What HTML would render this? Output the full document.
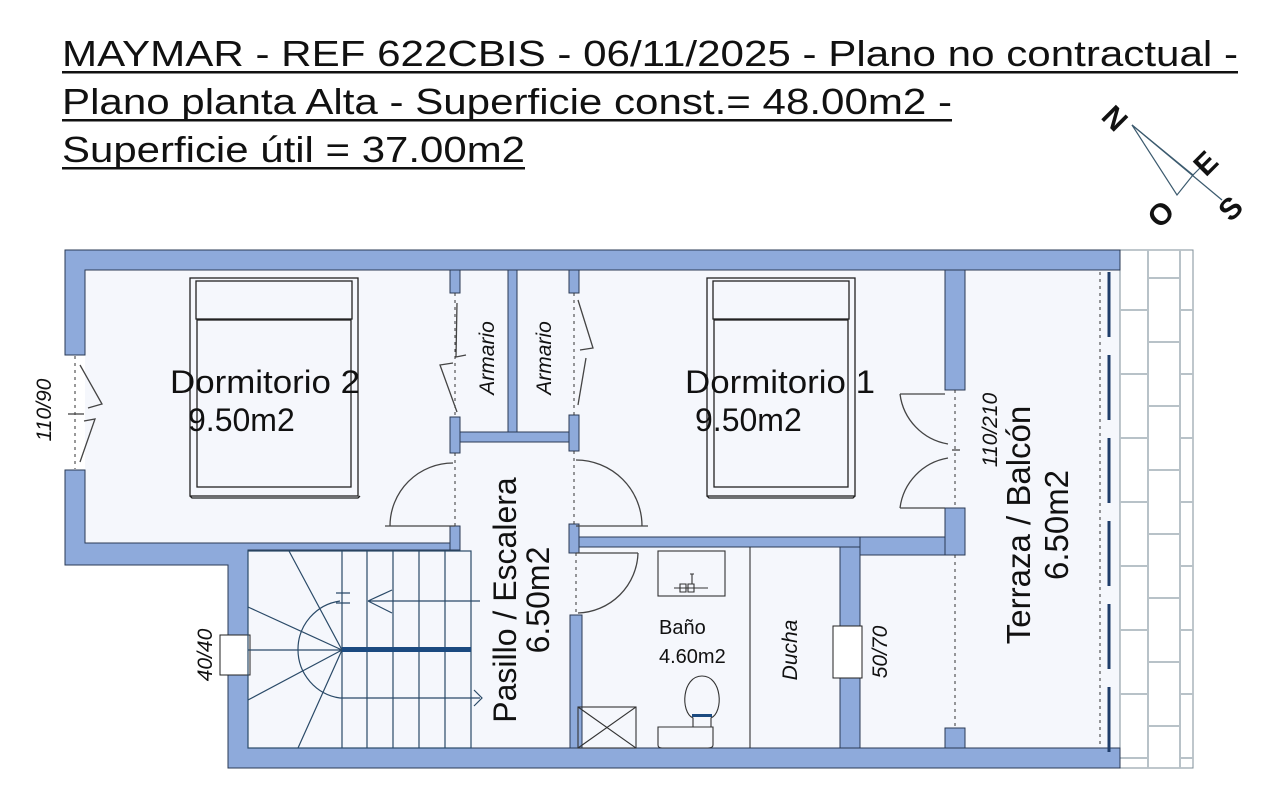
<!DOCTYPE html>
<html><head><meta charset="utf-8"><style>
html,body{margin:0;padding:0;background:#fff;}
svg{display:block;font-family:"Liberation Sans",sans-serif;}
</style></head><body>
<svg width="1280" height="796" viewBox="0 0 1280 796" xmlns="http://www.w3.org/2000/svg">
<rect width="1280" height="796" fill="#fff"/>
<g font-size="36" fill="#111">
<text x="62" y="66" textLength="1176" lengthAdjust="spacingAndGlyphs">MAYMAR - REF 622CBIS - 06/11/2025 - Plano no contractual -</text>
<text x="62" y="114" textLength="890" lengthAdjust="spacingAndGlyphs">Plano planta Alta - Superficie const.= 48.00m2 -</text>
<text x="62" y="162" textLength="463" lengthAdjust="spacingAndGlyphs">Superficie útil = 37.00m2</text>
</g>
<g fill="#111"><rect x="62" y="71" width="1176" height="2.5"/><rect x="62" y="119" width="890" height="2.5"/><rect x="62" y="167" width="463" height="2.5"/></g>
<g stroke="#3b5a6e" stroke-width="1.2" fill="none">
<path d="M1132 125 L1177 195 L1193 175 Z"/><path d="M1193 175 L1205 163"/><path d="M1132 125 L1222 200"/>
</g>
<g font-size="30" fill="#111" font-weight="bold">
<text x="1106" y="127" transform="rotate(45 1114 115)">N</text>
<text x="1194" y="171" transform="rotate(-45 1208 160)">E</text>
<text x="1148" y="223" transform="rotate(-45 1162 212)">O</text>
<text x="1220" y="219" transform="rotate(-45 1230 208)">S</text>
</g>
<path d="M85 270 H1120 V748 H248 V565 H85 Z" fill="#f5f7fc"/>
<rect x="1120" y="250" width="73" height="518" fill="#fff" stroke="#7f8f98" stroke-width="1"/>
<g stroke="#b8c2c8" stroke-width="2">
<line x1="1148" y1="250" x2="1148" y2="768"/><line x1="1180" y1="250" x2="1180" y2="768"/>
<line x1="1120" y1="310" x2="1148" y2="310"/><line x1="1120" y1="374" x2="1148" y2="374"/><line x1="1120" y1="438" x2="1148" y2="438"/><line x1="1120" y1="502" x2="1148" y2="502"/><line x1="1120" y1="566" x2="1148" y2="566"/><line x1="1120" y1="630" x2="1148" y2="630"/><line x1="1120" y1="694" x2="1148" y2="694"/><line x1="1120" y1="758" x2="1148" y2="758"/>
<line x1="1180" y1="310" x2="1193" y2="310"/><line x1="1180" y1="374" x2="1193" y2="374"/><line x1="1180" y1="438" x2="1193" y2="438"/><line x1="1180" y1="502" x2="1193" y2="502"/><line x1="1180" y1="566" x2="1193" y2="566"/><line x1="1180" y1="630" x2="1193" y2="630"/><line x1="1180" y1="694" x2="1193" y2="694"/><line x1="1180" y1="758" x2="1193" y2="758"/>
<line x1="1148" y1="278" x2="1180" y2="278"/><line x1="1148" y1="342" x2="1180" y2="342"/><line x1="1148" y1="406" x2="1180" y2="406"/><line x1="1148" y1="470" x2="1180" y2="470"/><line x1="1148" y1="534" x2="1180" y2="534"/><line x1="1148" y1="598" x2="1180" y2="598"/><line x1="1148" y1="662" x2="1180" y2="662"/><line x1="1148" y1="726" x2="1180" y2="726"/>
</g>
<g fill="#8eaadb" stroke="#2a3a55" stroke-width="1">
<path d="M65 250 H1120 V270 H85 V355 H65 Z"/>
<path d="M65 470 H85 V543 H460 V550 H248 V748 H1120 V768 H228 V565 H65 Z"/>
<rect x="450" y="270" width="10" height="23"/><rect x="450" y="417" width="10" height="36"/><rect x="450" y="526" width="10" height="24"/>
<rect x="508" y="270" width="9" height="162"/>
<rect x="460" y="432" width="110" height="10"/>
<rect x="569" y="270" width="10" height="23"/><rect x="569" y="415" width="10" height="36"/><rect x="569" y="524" width="10" height="29"/>
<rect x="570" y="615" width="12" height="133"/>
<rect x="579" y="537" width="366" height="10"/>
<rect x="840" y="547" width="20" height="201"/>
<rect x="860" y="537" width="85" height="18"/>
<rect x="945" y="270" width="20" height="120"/><rect x="945" y="508" width="20" height="47"/><rect x="945" y="728" width="20" height="20"/>
</g>
<rect x="220" y="635" width="30" height="40" fill="#fff" stroke="#222" stroke-width="1"/>
<rect x="833" y="626" width="29" height="52" fill="#fff" stroke="#222" stroke-width="1"/>
<g stroke="#333" stroke-width="1" stroke-dasharray="3,4">
<line x1="75" y1="356" x2="75" y2="469"/><line x1="455" y1="293" x2="455" y2="417"/><line x1="455" y1="453" x2="455" y2="526"/>
<line x1="574" y1="293" x2="574" y2="415"/><line x1="574" y1="451" x2="574" y2="524"/><line x1="576" y1="553" x2="576" y2="615"/>
<line x1="955" y1="390" x2="955" y2="508"/><line x1="955" y1="555" x2="955" y2="728"/><line x1="1100" y1="272" x2="1100" y2="748"/>
</g>
<g stroke="#1f3d6a" stroke-width="3" stroke-dasharray="65,18"><line x1="1109" y1="272" x2="1109" y2="760"/></g>
<g stroke="#444" stroke-width="1.3" fill="none">
<path d="M385 526 H455 M390 526 A63 63 0 0 1 453 463"/>
<path d="M576 526 H648 M576 460 A66 66 0 0 1 642 526"/>
<path d="M576 553 H638 M638 553 A62 62 0 0 1 578 613"/>
<path d="M945 394 H900 M900 394 A58 58 0 0 0 948 444"/>
<path d="M945 508 H900 M900 508 A58 58 0 0 1 948 458"/>
<line x1="952" y1="450" x2="960" y2="450"/>
<path d="M80 365 L102 404 L88 408 M80 462 L95 419 L84 421"/><line x1="68" y1="414" x2="84" y2="414"/>
<path d="M457 303 L456 357 L466 355 M457 412 L440 365 L453 363"/>
<path d="M578 300 L593 348 L580 350 M578 405 L586 358"/>
</g>
<g stroke="#222" stroke-width="1.3" fill="none">
<rect x="190" y="278" width="168" height="218"/><rect x="196" y="281" width="156" height="38"/><rect x="197" y="320" width="154" height="167"/>
<path d="M190 496 L192 498 L358 498 L360 496"/>
<rect x="707" y="278" width="148" height="218"/><rect x="713" y="281" width="136" height="38"/><rect x="714" y="320" width="134" height="167"/>
<path d="M707 496 L709 498 L853 498 L855 496"/>
</g>
<g stroke="#2a4a68" stroke-width="1.2" fill="none">
<rect x="248" y="551" width="223" height="197"/>
<line x1="342" y1="551" x2="342" y2="748"/><line x1="367" y1="551" x2="367" y2="748"/><line x1="393" y1="551" x2="393" y2="748"/><line x1="419" y1="551" x2="419" y2="748"/><line x1="445" y1="551" x2="445" y2="748"/>
<path d="M342 650 L289 551 M342 650 L248 607 M342 650 L248 650 M342 650 L248 700 M342 650 L298 748"/>
<path d="M340 601 A49 49 0 0 0 340 698 H480 M474 690 L482 698 L474 706"/>
<path d="M368 601 H480 M368 601 L392 590 M368 601 L392 613"/>
<path d="M336 593 H350 M336 603 H350"/>
</g>
<rect x="342" y="647" width="129" height="5" fill="#1b4a80"/>
<g stroke="#333" stroke-width="1.1" fill="none">
<line x1="750" y1="547" x2="750" y2="748"/>
<rect x="658" y="551" width="67" height="45"/>
<path d="M674 588 H708 M680 584 h6 v8 h-6 Z M688 584 h6 v8 h-6 Z M692 574 v10 M690 574 h4"/>
<path d="M693 718 C680 712 682 676 702 676 C722 676 724 712 711 718 V727 H693 Z"/>
<path d="M658 727 H713 V745 Q713 748 708 748 H662 Q658 748 658 745 Z"/>
<rect x="578" y="707" width="58" height="41"/><path d="M578 707 L636 748 M636 707 L578 748"/>
</g>
<rect x="692" y="714" width="20" height="3" fill="#1b4a80"/>
<g fill="#111" font-size="32">
<text x="170" y="393" textLength="190" lengthAdjust="spacingAndGlyphs">Dormitorio 2</text><text x="188" y="431">9.50m2</text>
<text x="685" y="393" textLength="190" lengthAdjust="spacingAndGlyphs">Dormitorio 1</text><text x="695" y="431">9.50m2</text>
<text transform="translate(516 600) rotate(-90)" text-anchor="middle">Pasillo / Escalera</text>
<text transform="translate(549 600) rotate(-90)" text-anchor="middle">6.50m2</text>
<text transform="translate(1030 525) rotate(-90)" text-anchor="middle" font-size="33">Terraza / Balcón</text>
<text transform="translate(1068 525) rotate(-90)" text-anchor="middle" font-size="33">6.50m2</text>
</g>
<g fill="#111" font-size="20">
<text x="659" y="634">Baño</text><text x="659" y="663">4.60m2</text>
</g>
<g fill="#111" font-size="21" font-style="italic">
<text transform="translate(494 358) rotate(-90)" text-anchor="middle">Armario</text>
<text transform="translate(551 358) rotate(-90)" text-anchor="middle">Armario</text>
<text transform="translate(797 650) rotate(-90)" text-anchor="middle">Ducha</text>
<text transform="translate(51 410) rotate(-90)" text-anchor="middle">110/90</text>
<text transform="translate(212 655) rotate(-90)" text-anchor="middle">40/40</text>
<text transform="translate(887 652) rotate(-90)" text-anchor="middle">50/70</text>
<text transform="translate(997 430) rotate(-90)" text-anchor="middle">110/210</text>
</g>
</svg>
</body></html>
